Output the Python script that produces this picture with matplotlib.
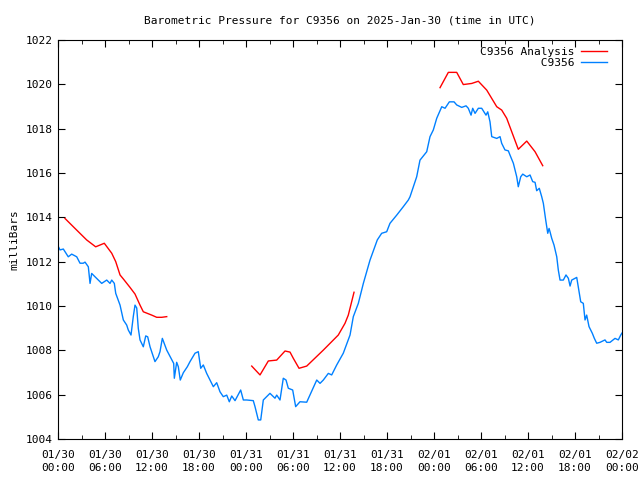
import numpy as np
import matplotlib
matplotlib.use("Agg")
import matplotlib.pyplot as plt
from matplotlib.ticker import MultipleLocator

# hours since 2025-01-30 00:00 UTC, pressure in mb
obs_hours = [0.0, 0.26, 0.68, 1.31, 1.75, 2.39, 2.81, 3.23, 3.45, 3.87, 4.09, 4.30, 4.72,
             5.58, 6.22, 6.64, 6.86, 7.19, 7.37, 7.92, 8.34, 8.77, 8.97, 9.32, 9.61, 9.83,
             10.05, 10.25, 10.47, 10.89, 11.20, 11.45, 11.75, 12.38, 12.80, 13.02, 13.32,
             13.88, 14.43, 14.77, 14.85, 15.15, 15.36, 15.61, 16.00, 16.51, 16.85, 17.49,
             17.91, 18.22, 18.55, 18.98, 19.83, 20.26, 20.68, 21.10, 21.54, 21.87, 22.18,
             22.60, 23.32, 23.66, 24.09, 24.93, 25.15, 25.57, 25.88, 26.21, 27.06, 27.70,
             27.92, 28.34, 28.76, 29.11, 29.40, 29.96, 30.34, 30.89, 31.75, 33.03, 33.45,
             33.87, 34.51, 34.94, 35.58, 36.42, 37.28, 37.70, 38.34, 38.98, 39.83, 40.76,
             41.32, 41.96, 42.38, 43.24, 44.08, 44.72, 44.94, 45.36, 45.79, 46.21, 47.07,
             47.49, 47.91, 48.35, 48.99, 49.41, 49.96, 50.56, 50.90, 51.54, 52.09, 52.38,
             52.73, 52.94, 53.24, 53.66, 54.09, 54.64, 54.86, 55.15, 55.37, 56.01, 56.43,
             56.64, 57.06, 57.49, 57.70, 58.13, 58.56, 58.76, 59.07, 59.33, 59.84, 60.26,
             60.60, 60.90, 61.11, 61.44, 61.75, 61.96, 62.26, 62.52, 62.69, 62.81, 63.03,
             63.32, 63.67, 63.87, 64.09, 64.51, 64.85, 65.15, 65.37, 65.58, 66.00, 66.22,
             66.42, 66.73, 67.06, 67.28, 67.49, 67.79, 68.21, 68.47, 68.77, 69.19, 69.83,
             70.05, 70.47, 71.11, 71.53, 71.84, 72.0]
obs_mb = [1012.71, 1012.53, 1012.57, 1012.22, 1012.34, 1012.22, 1011.93, 1011.93, 1011.98,
          1011.77, 1011.02, 1011.47, 1011.32, 1011.02, 1011.17, 1011.02, 1011.17, 1011.02,
          1010.57, 1010.04, 1009.37, 1009.14, 1008.92, 1008.69, 1009.52, 1010.04, 1009.91,
          1008.99, 1008.47, 1008.16, 1008.65, 1008.61, 1008.16, 1007.49, 1007.71, 1007.94,
          1008.54, 1008.01, 1007.64, 1007.41, 1006.74, 1007.46, 1007.26, 1006.66, 1006.99,
          1007.26, 1007.49, 1007.87, 1007.94, 1007.19, 1007.34, 1006.96, 1006.36, 1006.54,
          1006.13, 1005.91, 1005.98, 1005.68, 1005.94, 1005.73, 1006.21, 1005.76, 1005.76,
          1005.73, 1005.46, 1004.86, 1004.86, 1005.76, 1006.06, 1005.84, 1005.98, 1005.76,
          1006.74, 1006.66, 1006.29, 1006.21, 1005.46, 1005.68, 1005.66, 1006.66, 1006.51,
          1006.66, 1006.96, 1006.89, 1007.34, 1007.87, 1008.69, 1009.52, 1010.12, 1011.02,
          1012.07, 1012.98, 1013.28, 1013.35, 1013.73, 1014.10, 1014.48, 1014.78, 1014.93,
          1015.38, 1015.83, 1016.58, 1016.96, 1017.64, 1017.94, 1018.47, 1018.99, 1018.92,
          1019.21, 1019.21, 1019.07, 1018.96, 1019.03, 1018.92, 1018.61, 1018.92, 1018.69,
          1018.92, 1018.92, 1018.61, 1018.76, 1018.31, 1017.64, 1017.56, 1017.64, 1017.34,
          1017.04, 1017.00, 1016.81, 1016.44, 1015.83, 1015.38, 1015.83, 1015.95, 1015.83,
          1015.91, 1015.61, 1015.58, 1015.20, 1015.31, 1014.93, 1014.63, 1013.88, 1013.28,
          1013.50, 1013.35, 1013.05, 1012.75, 1012.22, 1011.62, 1011.17, 1011.17, 1011.40,
          1011.25, 1010.90, 1011.17, 1011.25, 1011.29, 1010.87, 1010.19, 1010.12, 1009.37,
          1009.59, 1009.07, 1008.77, 1008.54, 1008.32, 1008.36, 1008.47, 1008.36, 1008.36,
          1008.54, 1008.47, 1008.69, 1008.78]

# analysis comes in three separate runs
ana1_hours = [0.89, 2.17, 3.66, 4.81, 5.91, 6.86, 7.37, 7.92, 8.34, 9.19, 9.83, 10.47,
              10.89, 11.96, 12.60, 13.24, 13.88]
ana1_mb = [1013.95, 1013.50, 1012.98, 1012.67, 1012.83, 1012.38, 1012.00, 1011.40, 1011.22,
           1010.84, 1010.54, 1010.04, 1009.74, 1009.59, 1009.49, 1009.49, 1009.52]
ana2_hours = [24.73, 25.79, 26.85, 27.92, 28.98, 29.62, 30.04, 30.77, 31.75, 33.87, 35.78,
              36.64, 37.06, 37.79]
ana2_mb = [1007.29, 1006.89, 1007.52, 1007.56, 1007.97, 1007.92, 1007.64, 1007.19, 1007.29,
           1008.01, 1008.69, 1009.22, 1009.59, 1010.62]
ana3_hours = [48.77, 49.83, 50.90, 51.74, 52.82, 53.66, 54.73, 56.01, 56.64, 57.28, 58.76,
              59.84, 60.90, 61.88]
ana3_mb = [1019.85, 1020.54, 1020.54, 1019.99, 1020.04, 1020.14, 1019.74, 1018.99, 1018.84,
           1018.47, 1017.07, 1017.44, 1016.96, 1016.33]

tick_labels = ["01/30\n00:00", "01/30\n06:00", "01/30\n12:00", "01/30\n18:00",
               "01/31\n00:00", "01/31\n06:00", "01/31\n12:00", "01/31\n18:00",
               "02/01\n00:00", "02/01\n06:00", "02/01\n12:00", "02/01\n18:00",
               "02/02\n00:00"]

plt.rcParams['font.family'] = ['DejaVu Sans Mono']
plt.rcParams['font.size'] = 8

fig = plt.figure(figsize=(6.4, 4.8), dpi=100)
ax = fig.add_axes([58 / 640, 41 / 480, 564 / 640, 399 / 480])

# join analysis runs with gaps
ana_hours = ana1_hours + [np.nan] + ana2_hours + [np.nan] + ana3_hours
ana_mb = ana1_mb + [np.nan] + ana2_mb + [np.nan] + ana3_mb

# monospace font, so pad the short label to right-align it like gnuplot
lab_ana = "C9356 Analysis"
lab_obs = "C9356".rjust(len(lab_ana))

ax.plot(ana_hours, ana_mb, color="#ff0000", lw=1, label=lab_ana)
ax.plot(obs_hours, obs_mb, color="#0080ff", lw=1, label=lab_obs)

ax.set_xlim(0, 72)
ax.set_ylim(1004, 1022)
ax.set_xticks(np.arange(0, 73, 6))
ax.set_xticklabels(tick_labels, linespacing=1.35)
ax.xaxis.set_minor_locator(MultipleLocator(3))
ax.set_yticks(np.arange(1004, 1023, 2))
ax.tick_params(which="both", direction="in", top=True, right=True)
ax.tick_params(which="major", length=5)
ax.tick_params(which="minor", length=3)
ax.tick_params(axis="x", pad=8)

ax.set_title("Barometric Pressure for C9356 on 2025-Jan-30 (time in UTC)", fontsize=8, pad=12)
ax.set_ylabel("milliBars", labelpad=5)

leg = ax.legend(loc="upper right", frameon=False, markerfirst=False, handlelength=2.4,
                borderaxespad=0.2, borderpad=0.4, labelspacing=0.15, handletextpad=0.6)
leg.set_bbox_to_anchor((1 - 8 / 564, 1), transform=ax.transAxes)

fig.savefig("out.png", dpi=100)
